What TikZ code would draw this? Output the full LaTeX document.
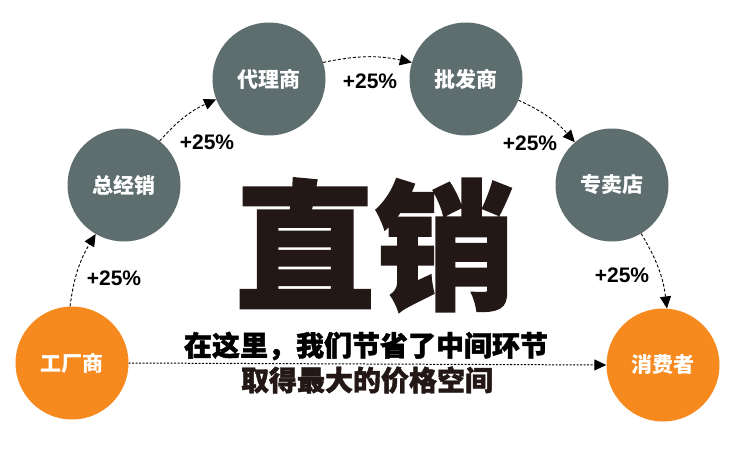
\documentclass[tikz,border=0pt]{standalone}
\usepackage{fontspec}
\setmainfont{Liberation Sans}
\newfontfamily\cjk{Noto Sans CJK SC}
\newfontfamily\cjkheavy{Noto Sans CJK SC}[BoldFeatures={FakeBold=1.5}]
\usetikzlibrary{arrows.meta}
\definecolor{Gfill}{RGB}{94,110,110}
\definecolor{Ofill}{RGB}{247,138,31}
\definecolor{Tink}{RGB}{35,24,21}

\begin{document}
\begin{tikzpicture}[x=1pt,y=-1pt,
  stage/.style={circle,fill=Gfill,minimum size=113pt,inner sep=0pt,text=white,font=\cjk\bfseries\fontsize{21}{24}\selectfont},
  endstage/.style={stage,fill=Ofill},
  flow/.style={-{Triangle[length=12pt,width=11pt]},line width=0.9pt,dash pattern=on 3pt off 2pt,bend left=12},
  rate/.style={font=\bfseries\fontsize{21}{24}\selectfont}]
\path[use as bounding box,fill=white] (0,0) rectangle (750,469);
% stages of the chain
\node[endstage] (factory) at (72,363) {工厂商};
\node[stage] (general) at (124,185) {总经销};
\node[stage] (agent) at (269,79) {代理商};
\node[stage] (wholesale) at (466,79) {批发商};
\node[stage] (store) at (612,185) {专卖店};
\node[endstage] (consumer) at (663,365) {消费者};
% dashed steps
\draw[flow] (factory.92) to (general.240);
\draw[flow] (general.51) to (agent.201);
\draw[flow] (agent.17) to (wholesale.163);
\draw[flow] (wholesale.338) to (store.131);
\draw[flow] (store.301) to (consumer.86);
\draw[-{Triangle[length=12pt,width=11pt]},line width=1pt,dash pattern=on 2pt off 1.5pt] (factory.east) -- (consumer.west);
% markups
\node[rate] (rate1) at (114,278) {+25\%};
\node[rate] (rate2) at (207,142) {+25\%};
\node[rate] (rate3) at (370,81) {+25\%};
\node[rate] (rate4) at (530,143) {+25\%};
\node[rate] (rate5) at (622,275) {+25\%};
% title and slogan
\node[text=Tink,inner sep=0pt,font=\cjkheavy\bfseries\fontsize{140}{140}\selectfont] (title) at (375,245) {直销};
\node[inner sep=0pt,font=\cjkheavy\bfseries\fontsize{28}{30}\selectfont] (slogan1) at (366,346) {在这里，我们节省了中间环节};
\node[inner sep=0pt,text=Tink,font=\cjkheavy\bfseries\fontsize{28}{30}\selectfont] (slogan2) at (367,380) {取得最大的价格空间};
\end{tikzpicture}
\end{document}
